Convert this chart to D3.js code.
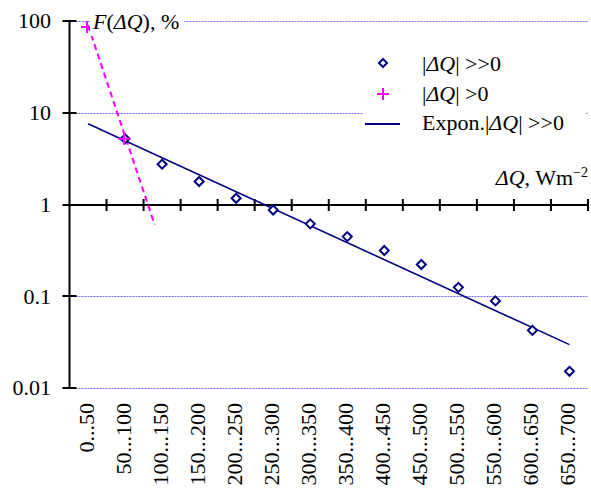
<!DOCTYPE html>
<html>
<head>
<meta charset="utf-8">
<script src="https://cdn.jsdelivr.net/npm/d3@7"></script>
<style>
  html, body { margin: 0; padding: 0; background: #fff; }
  svg { display: block; }
</style>
</head>
<body>
<svg id="chart" width="591" height="488"></svg>
<script>
// ---- data ----
const categories = ["0...50","50...100","100...150","150...200","200...250","250...300","300...350",
  "350...400","400...450","450...500","500...550","550...600","600...650","650...700"];
const seriesStrong = [null, 5.2, 2.75, 1.78, 1.17, 0.87, 0.615, 0.447, 0.315, 0.222, 0.125, 0.089, 0.0425, 0.0152]; // |ΔQ| >>0
const seriesWeak = [86, 5.2];                  // |ΔQ| >0
const trendStrong = [{i: 0, v: 7.6}, {i: 13, v: 0.0297}];   // Expon. |ΔQ| >>0
const trendWeak = [{i: 0, v: 90}, {i: 1.8, v: 0.6}];        // dashed fit of |ΔQ| >0
const yTicks = [0.01, 0.1, 1, 10, 100];
const yTickLabels = ["0.01", "0.1", "1", "10", "100"];

// ---- layout ----
const svg = d3.select("#chart");
const pLeft = 69.5, pRight = 588, pTop = 21, pBottom = 388;
const x = d3.scaleBand().domain(categories).range([pLeft, pRight]).padding(0);
const bw = x.bandwidth();
const xi = d3.scaleLinear().domain([-0.5, categories.length - 0.5]).range([pLeft, pRight]);
const y = d3.scaleLog().domain([0.01, 100]).range([pBottom, pTop]);
const navy = "#000080", magenta = "#ff00ff";
const FONT = "Liberation Serif";
const FS = 22;

// gridlines
svg.append("g").selectAll("line").data(yTicks.filter(d => d !== 1)).join("line")
  .attr("x1", pLeft + 6).attr("x2", pRight)
  .attr("y1", d => Math.round(y(d)) + 0.5).attr("y2", d => Math.round(y(d)) + 0.5)
  .attr("stroke", "#6f6fff").attr("stroke-width", 1).attr("stroke-dasharray", "2,1");

// y axis
const yAxis = svg.append("g");
yAxis.append("line").attr("x1", pLeft).attr("x2", pLeft).attr("y1", pTop).attr("y2", pBottom)
  .attr("stroke", "#000").attr("stroke-width", 2);
yAxis.selectAll("line.t").data(yTicks).join("line").attr("class", "t")
  .attr("x1", pLeft - 7).attr("x2", pLeft + 7)
  .attr("y1", d => Math.round(y(d))).attr("y2", d => Math.round(y(d)))
  .attr("stroke", "#000").attr("stroke-width", 2);
yAxis.selectAll("text").data(yTicks).join("text")
  .attr("x", 51).attr("y", d => y(d)).attr("dy", "0.33em")
  .attr("text-anchor", "end").attr("font-size", FS).attr("font-family", FONT).attr("fill", "#000")
  .text((d, i) => yTickLabels[i]);

// x axis at y = 1
const y1 = Math.round(y(1));
const xAxis = svg.append("g");
xAxis.append("line").attr("x1", pLeft).attr("x2", pRight).attr("y1", y1).attr("y2", y1)
  .attr("stroke", "#000").attr("stroke-width", 2);
const tickPos = categories.map(c => x(c)).concat([x(categories[categories.length - 1]) + bw]);
xAxis.selectAll("line.t").data(tickPos.slice(1)).join("line").attr("class", "t")
  .attr("x1", d => d).attr("x2", d => d).attr("y1", y1 - 6).attr("y2", y1 + 6)
  .attr("stroke", "#000").attr("stroke-width", 2);
svg.append("g").selectAll("text").data(categories).join("text")
  .attr("transform", d => `translate(${x(d) + bw / 2 - 1.5},403) rotate(-90)`)
  .attr("dy", "0.33em").attr("text-anchor", "end").attr("font-size", FS).attr("font-family", FONT).attr("fill", "#000")
  .text(d => d);

// trend lines
const lineGen = d3.line().x(d => xi(d.i)).y(d => y(d.v));
svg.append("path").datum(trendWeak).attr("d", lineGen)
  .attr("fill", "none").attr("stroke", magenta).attr("stroke-width", 2).attr("stroke-dasharray", "6,4");
svg.append("path").datum(trendStrong).attr("d", lineGen)
  .attr("fill", "none").attr("stroke", navy).attr("stroke-width", 1.6);

// diamonds
const diamond = (cx, cy, r) => `M${cx},${cy - r}L${cx + r},${cy}L${cx},${cy + r}L${cx - r},${cy}Z`;
svg.append("g").selectAll("path")
  .data(seriesStrong.map((v, i) => ({i, v})).filter(d => d.v != null)).join("path")
  .attr("d", d => diamond(xi(d.i), y(d.v), 4.5))
  .attr("fill", "#fff").attr("stroke", navy).attr("stroke-width", 2);

// plus markers
const plus = (cx, cy, r) => `M${cx - r},${cy}H${cx + r}M${cx},${cy - r}V${cy + r}`;
svg.append("g").selectAll("path")
  .data(seriesWeak.map((v, i) => ({i, v}))).join("path")
  .attr("d", d => plus(xi(d.i) - 1, y(d.v), 6))
  .attr("fill", "none").attr("stroke", magenta).attr("stroke-width", 2);

// y axis title
svg.append("rect").attr("x", 90).attr("y", 9).attr("width", 94).attr("height", 27).attr("fill", "#fff");
const yt = svg.append("text").attr("x", 93).attr("y", 29).attr("font-size", FS).attr("font-family", FONT).attr("fill", "#000");
yt.append("tspan").attr("font-style", "italic").text("F");
yt.append("tspan").text("(");
yt.append("tspan").attr("font-style", "italic").text("ΔQ");
yt.append("tspan").text("), %");

// x axis title
const xt = svg.append("text").attr("x", 588).attr("y", 185).attr("text-anchor", "end")
  .attr("font-size", FS).attr("font-family", FONT).attr("fill", "#000");
xt.append("tspan").attr("font-style", "italic").text("ΔQ");
xt.append("tspan").text(", Wm");
xt.append("tspan").attr("font-size", 14).attr("dy", -8).text("−2");

// legend
const lg = svg.append("g");
lg.append("rect").attr("x", 363).attr("y", 44).attr("width", 223).attr("height", 96).attr("fill", "#fff");
lg.append("path").attr("d", diamond(383, 63, 4)).attr("fill", "#fff").attr("stroke", navy).attr("stroke-width", 2);
lg.append("path").attr("d", plus(383, 94, 6)).attr("fill", "none").attr("stroke", magenta).attr("stroke-width", 2);
lg.append("line").attr("x1", 365).attr("x2", 400).attr("y1", 124).attr("y2", 124)
  .attr("stroke", navy).attr("stroke-width", 2);
const legendItems = [
  {y: 71, pre: "", post: " >>0"},
  {y: 101, pre: "", post: " >0"},
  {y: 130, pre: "Expon.", post: " >>0"}
];
legendItems.forEach(it => {
  const t = lg.append("text").attr("x", 422).attr("y", it.y).attr("font-size", FS).attr("font-family", FONT).attr("fill", "#000");
  if (it.pre) t.append("tspan").text(it.pre);
  t.append("tspan").text("|");
  t.append("tspan").attr("font-style", "italic").text("ΔQ");
  t.append("tspan").text("|" + it.post);
});
</script>
</body>
</html>
